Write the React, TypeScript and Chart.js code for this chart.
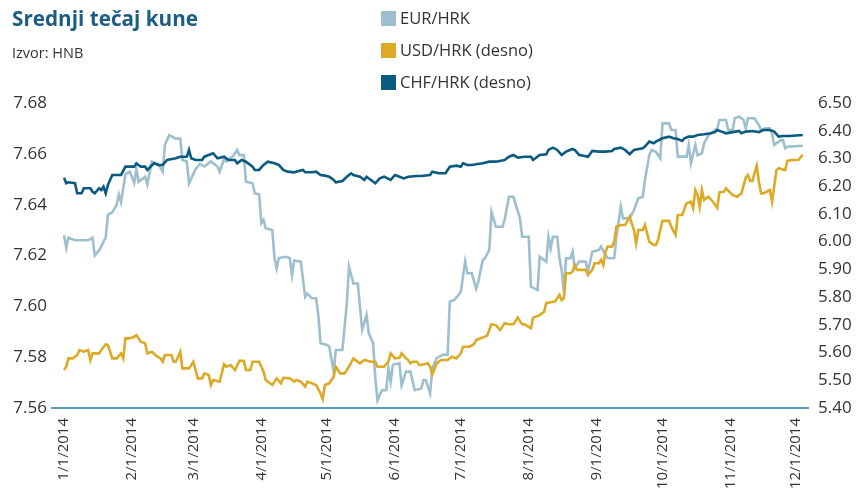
import React, { useEffect, useRef } from "react";
import { Chart, registerables } from "chart.js";

Chart.register(...registerables);

// Day offsets from 1 Jan 2014
const eurDays = [0,1,2,5,11,13,14,16,19,20,22,24,25,26,28,30,32,33,34,37,38,40,43,45,46,48,51,53,54,56,57,60,62,64,67,70,71,73,74,77,79,80,82,83,86,87,89,90,91,92,95,96,97,98,101,103,104,105,108,110,111,113,115,116,117,120,121,123,124,127,129,130,132,134,136,138,139,141,142,143,145,147,148,149,150,153,154,156,158,160,163,164,165,167,168,170,173,175,176,178,180,181,183,184,186,188,189,191,192,194,195,197,200,201,203,205,208,209,212,213,216,217,219,220,221,222,223,225,226,227,228,229,231,232,233,235,238,239,241,244,245,247,248,251,252,254,255,258,260,262,264,265,267,268,270,272,273,276,277,279,280,284,285,286,288,289,291,292,294,296,298,299,302,303,305,306,308,310,311,312,315,317,318,320,322,323,324,327,328,329,330,337];
const eurValues = [7.628,7.623,7.627,7.626,7.626,7.627,7.620,7.622,7.627,7.636,7.637,7.640,7.644,7.641,7.652,7.653,7.6485,7.654,7.649,7.651,7.648,7.657,7.656,7.653,7.6635,7.6674,7.666,7.666,7.6576,7.657,7.6484,7.654,7.656,7.655,7.657,7.655,7.653,7.658,7.657,7.659,7.6615,7.6595,7.6595,7.649,7.6484,7.6445,7.644,7.6327,7.634,7.6307,7.630,7.619,7.615,7.619,7.6195,7.619,7.6123,7.618,7.6176,7.6038,7.605,7.6032,7.6032,7.5966,7.5855,7.5848,7.5841,7.5743,7.5828,7.5828,7.6012,7.6156,7.609,7.609,7.5907,7.5966,7.5894,7.5855,7.5717,7.5631,7.567,7.567,7.5756,7.5703,7.577,7.5776,7.569,7.5743,7.5743,7.567,7.5677,7.571,7.571,7.5658,7.5756,7.5796,7.581,7.581,7.6018,7.6025,7.6045,7.6058,7.6176,7.613,7.613,7.607,7.6097,7.6182,7.6189,7.6222,7.6372,7.6313,7.6313,7.634,7.6431,7.6431,7.6346,7.6274,7.6274,7.6077,7.6064,7.6195,7.6182,7.6176,7.6274,7.6228,7.6274,7.6274,7.6189,7.6143,7.6058,7.6189,7.6189,7.6215,7.615,7.6176,7.6176,7.6136,7.6215,7.6222,7.6235,7.6202,7.6189,7.6189,7.6274,7.6392,7.6346,7.6346,7.6379,7.6425,7.6431,7.6497,7.6595,7.6615,7.6608,7.6582,7.672,7.672,7.6694,7.6694,7.6589,7.6589,7.6635,7.6563,7.6635,7.6595,7.6602,7.6641,7.6674,7.6687,7.670,7.6733,7.6733,7.6694,7.6694,7.674,7.6746,7.6733,7.670,7.674,7.674,7.6713,7.6694,7.670,7.670,7.668,7.6635,7.6654,7.6654,7.6622,7.6628,7.6632];

const usdDays = [0,1,2,4,6,7,9,11,12,13,16,17,19,20,22,24,26,27,28,30,32,33,35,37,38,40,42,44,45,46,49,50,51,53,54,57,59,61,63,64,66,67,68,71,73,74,76,78,80,82,83,85,86,89,91,92,95,97,99,100,103,105,106,108,110,111,113,115,117,118,119,121,123,124,126,128,130,132,135,137,140,142,143,146,148,149,151,153,154,156,157,158,159,161,162,163,166,167,168,170,172,174,175,177,179,181,182,185,187,188,191,193,195,197,199,201,203,205,207,209,210,213,214,217,219,220,223,224,225,226,227,228,229,231,232,233,234,238,239,241,242,244,245,246,247,248,250,251,252,254,256,258,259,260,261,262,264,265,267,269,270,271,272,273,276,277,279,280,282,284,286,287,288,289,290,291,292,294,296,298,299,301,302,305,307,309,311,312,313,314,316,317,318,319,322,323,325,326,329,330,332,335,337];
const usdValues = [5.537,5.549,5.579,5.579,5.591,5.609,5.603,5.609,5.573,5.597,5.597,5.609,5.63,5.627,5.579,5.579,5.597,5.579,5.651,5.651,5.657,5.663,5.639,5.633,5.597,5.603,5.589,5.579,5.567,5.591,5.591,5.567,5.567,5.603,5.543,5.543,5.567,5.507,5.507,5.525,5.519,5.483,5.501,5.495,5.558,5.549,5.555,5.537,5.57,5.57,5.537,5.537,5.567,5.567,5.531,5.501,5.483,5.507,5.489,5.509,5.507,5.495,5.501,5.495,5.477,5.495,5.489,5.483,5.453,5.432,5.483,5.489,5.513,5.549,5.525,5.525,5.549,5.579,5.561,5.573,5.567,5.567,5.549,5.549,5.567,5.597,5.579,5.581,5.597,5.579,5.573,5.561,5.567,5.567,5.555,5.555,5.561,5.549,5.521,5.561,5.573,5.573,5.573,5.585,5.579,5.597,5.621,5.621,5.63,5.645,5.654,5.661,5.702,5.699,5.681,5.706,5.702,5.702,5.726,5.702,5.702,5.688,5.726,5.735,5.747,5.778,5.783,5.784,5.796,5.808,5.79,5.796,5.886,5.886,5.892,5.916,5.898,5.898,5.88,5.898,5.922,5.922,5.934,5.916,5.964,5.982,5.982,6.0,6.054,6.06,6.06,6.09,6.066,6.042,5.994,6.042,6.042,6.06,6.0,5.988,5.988,6.006,6.042,6.075,6.075,6.054,6.024,6.096,6.096,6.138,6.144,6.12,6.186,6.168,6.126,6.186,6.15,6.162,6.144,6.122,6.178,6.18,6.192,6.168,6.162,6.174,6.231,6.24,6.219,6.219,6.274,6.216,6.174,6.174,6.186,6.144,6.258,6.265,6.258,6.291,6.2945,6.2945,6.313];

const chfDays = [0,1,2,5,6,8,9,12,13,14,16,17,18,19,20,22,26,28,32,33,35,37,38,41,43,45,47,51,53,56,57,58,60,63,64,68,70,73,75,78,79,81,83,86,87,89,91,93,96,98,100,102,105,107,109,110,113,115,117,119,121,123,124,127,129,131,132,135,137,138,140,142,144,146,149,151,153,155,157,161,163,167,168,171,174,176,179,181,182,184,186,188,191,194,197,201,203,205,207,210,213,214,217,220,221,223,225,227,229,232,233,235,237,239,241,244,247,250,251,254,256,258,260,264,265,267,269,270,273,276,278,280,282,283,285,287,289,292,295,297,298,300,302,305,308,309,311,314,317,319,322,324,326,328,331,337];
const chfValues = [6.2307,6.2105,6.214,6.2105,6.1744,6.1744,6.1925,6.1925,6.18,6.1744,6.1925,6.186,6.198,6.1744,6.204,6.2404,6.2404,6.2704,6.2704,6.2826,6.2704,6.2704,6.2585,6.2826,6.2765,6.2765,6.2945,6.3006,6.3064,6.3064,6.3306,6.3006,6.2945,6.2945,6.3064,6.3187,6.3006,6.3064,6.2945,6.2945,6.2826,6.2945,6.2884,6.2704,6.2585,6.2585,6.2765,6.2884,6.2826,6.2765,6.2585,6.2524,6.25,6.255,6.2585,6.25,6.25,6.2524,6.2404,6.238,6.2343,6.2224,6.214,6.2188,6.234,6.2465,6.2404,6.234,6.2224,6.234,6.2224,6.2105,6.2285,6.2343,6.2224,6.2404,6.2343,6.228,6.2343,6.2368,6.2368,6.2404,6.2524,6.2465,6.2465,6.2704,6.274,6.2704,6.2826,6.2765,6.2765,6.279,6.2826,6.2884,6.2884,6.2945,6.3064,6.3126,6.3028,6.3064,6.3064,6.2945,6.3126,6.315,6.3306,6.3389,6.3306,6.3126,6.3245,6.3342,6.3306,6.3126,6.31,6.3064,6.327,6.3245,6.3245,6.327,6.3342,6.3389,6.3306,6.315,6.3306,6.3366,6.3426,6.3606,6.3546,6.3606,6.3727,6.3787,6.3727,6.3703,6.363,6.3727,6.3787,6.3787,6.3847,6.3871,6.3907,6.395,6.4027,6.3967,6.3907,6.395,6.3991,6.3907,6.3967,6.3991,6.395,6.4027,6.4027,6.3967,6.3787,6.381,6.381,6.3847];

const monthStartDays = [0, 31, 59, 90, 120, 151, 181, 212, 243, 273, 304, 334];
const monthLabels = ["1/1/2014","2/1/2014","3/1/2014","4/1/2014","5/1/2014","6/1/2014","7/1/2014","8/1/2014","9/1/2014","10/1/2014","11/1/2014","12/1/2014"];

const seriesNames = ["EUR/HRK", "USD/HRK (desno)", "CHF/HRK (desno)"];
const seriesColors = ["#9dbfce", "#dcaa25", "#0b5a80"];

const FONT = "'Open Sans', 'Noto Sans', sans-serif";

function toPoints(days: number[], vals: number[]) {
  return days.map((d, i) => ({ x: d, y: vals[i] }));
}

export default function App() {
  const canvasRef = useRef<HTMLCanvasElement | null>(null);

  useEffect(() => {
    document.body.style.margin = "0";
    const canvas = canvasRef.current;
    if (!canvas) return;
    const chart = new Chart(canvas, {
      type: "line",
      data: {
        datasets: [
          {
            label: seriesNames[0],
            data: toPoints(eurDays, eurValues),
            borderColor: seriesColors[0],
            backgroundColor: seriesColors[0],
            borderWidth: 2.6,
            pointRadius: 0,
            yAxisID: "y",
            order: 3,
          },
          {
            label: seriesNames[1],
            data: toPoints(usdDays, usdValues),
            borderColor: seriesColors[1],
            backgroundColor: seriesColors[1],
            borderWidth: 2.6,
            pointRadius: 0,
            yAxisID: "y1",
            order: 2,
          },
          {
            label: seriesNames[2],
            data: toPoints(chfDays, chfValues),
            borderColor: seriesColors[2],
            backgroundColor: seriesColors[2],
            borderWidth: 2.6,
            pointRadius: 0,
            yAxisID: "y1",
            order: 1,
          },
        ],
      },
      options: {
        responsive: false,
        animation: false,
        devicePixelRatio: 1,
        layout: { padding: { top: 103, left: 0, right: 0, bottom: 0 } },
        plugins: {
          legend: { display: false },
          title: { display: false },
          tooltip: { enabled: false },
        },
        scales: {
          x: {
            type: "linear",
            min: -5.5,
            max: 339.4,
            afterBuildTicks: (scale: any) => {
              scale.ticks = monthStartDays.map((v) => ({ value: v }));
            },
            afterFit: (scale: any) => {
              scale.height = 86;
            },
            ticks: {
              autoSkip: false,
              maxRotation: 90,
              minRotation: 90,
              padding: 10,
              color: "#333333",
              font: { family: FONT, size: 15 },
              callback: (value: any) => {
                const i = monthStartDays.indexOf(Number(value));
                return i >= 0 ? monthLabels[i] : "";
              },
            },
            grid: { display: false, drawTicks: false },
            border: { display: true, color: "#5b9bba", width: 2 },
          },
          y: {
            type: "linear",
            position: "left",
            min: 7.56,
            max: 7.68,
            afterBuildTicks: (scale: any) => {
              const t = [];
              for (let i = 0; i <= 6; i++) t.push({ value: 7.56 + i * 0.02 });
              scale.ticks = t;
            },
            afterFit: (scale: any) => {
              scale.width = 52;
            },
            ticks: {
              padding: 5,
              color: "#333333",
              font: { family: FONT, size: 17 },
              callback: (v: any) => Number(v).toFixed(2),
            },
            grid: { display: false, drawTicks: false },
            border: { display: false },
          },
          y1: {
            type: "linear",
            position: "right",
            min: 5.4,
            max: 6.5,
            afterBuildTicks: (scale: any) => {
              const t = [];
              for (let i = 0; i <= 11; i++) t.push({ value: 5.4 + i * 0.1 });
              scale.ticks = t;
            },
            afterFit: (scale: any) => {
              scale.width = 48;
            },
            ticks: {
              padding: 10,
              color: "#333333",
              font: { family: FONT, size: 17 },
              callback: (v: any) => Number(v).toFixed(2),
            },
            grid: { display: false, drawTicks: false },
            border: { display: false },
          },
        },
      },
    } as any);
    return () => chart.destroy();
  }, []);

  return (
    <div style={{ position: "relative", width: 856, height: 494, background: "#fff", fontFamily: FONT }}>
      <canvas ref={canvasRef} width={856} height={494} style={{ position: "absolute", left: 0, top: 0 }} />
      <div style={{ position: "absolute", left: 12, top: 4, fontSize: 20.7, fontWeight: 700, color: "#1d5d84", lineHeight: "28px", whiteSpace: "nowrap" }}>
        Srednji tečaj kune
      </div>
      <div style={{ position: "absolute", left: 12, top: 43, fontSize: 14.5, color: "#333", lineHeight: "20px", whiteSpace: "nowrap" }}>
        Izvor: HNB
      </div>
      {seriesNames.map((name, i) => (
        <div
          key={name}
          style={{ position: "absolute", left: 381, top: 6 + i * 32, height: 24, display: "flex", alignItems: "center", whiteSpace: "nowrap" }}
        >
          <span style={{ display: "inline-block", width: 15, height: 15, background: seriesColors[i], marginRight: 4 }} />
          <span style={{ fontSize: 16.5, color: "#333", lineHeight: "24px" }}>{name}</span>
        </div>
      ))}
    </div>
  );
}
